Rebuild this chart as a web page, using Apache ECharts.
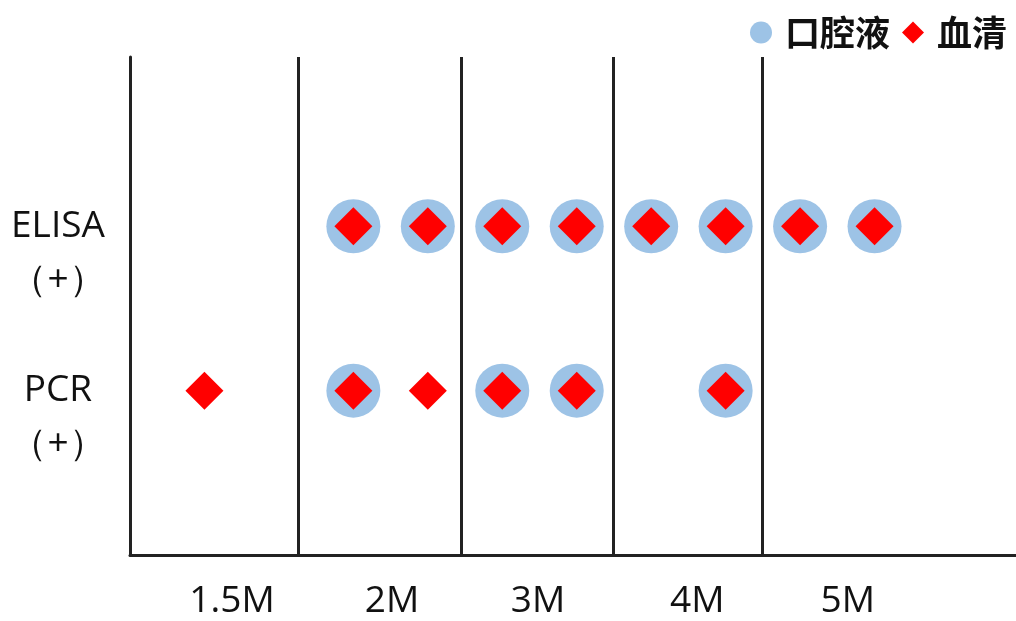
<!DOCTYPE html>
<html>
<head>
<meta charset="utf-8">
<script src="https://cdn.jsdelivr.net/npm/echarts@6/dist/echarts.min.js"></script>
<style>
html,body{margin:0;padding:0;background:#fff;}
#c{width:1016px;height:621px;}
</style>
</head>
<body>
<div id="c"></div>
<script>
// Row levels
var rowNames = ['PCR\n（+）', 'ELISA\n（+）'];
var rowLevels = [1, 2];
// Period labels and their positions along the sample axis
var periodLabels = ['1.5M', '2M', '3M', '4M', '5M'];
var periodLabelPos = [1.37, 3.52, 5.48, 7.62, 9.64];
var periodBounds = [2.26, 4.45, 6.49, 8.49];
// Oral fluid positives [sample position, row level]
var oralFluid = [[3,2],[4,2],[5,2],[6,2],[7,2],[8,2],[9,2],[10,2],
                 [3,1],[5,1],[6,1],[8,1]];
// Serum positives
var serum = [[3,2],[4,2],[5,2],[6,2],[7,2],[8,2],[9,2],[10,2],
             [1,1],[3,1],[4,1],[5,1],[6,1],[8,1]];

var font = '"Open Sans", "Noto Sans", sans-serif';
var chart = echarts.init(document.getElementById('c'));
chart.setOption({
  animation: false,
  backgroundColor: '#fff',
  legend: {
    right: 4, top: 10,
    itemWidth: 22, itemHeight: 22, itemGap: 12,
    textStyle: {fontSize: 35, fontWeight: 'bold', color: '#111', fontFamily: '"Noto Sans CJK SC", sans-serif', padding: [0,0,0,8]},
    data: [{name: '口腔液', icon: 'circle'}, {name: '血清', icon: 'diamond'}]
  },
  grid: {left: 130, right: 0, top: 57, bottom: 66},
  xAxis: {
    type: 'value', min: 0, max: 11.9,
    axisLine: {show: true, lineStyle: {color: '#222', width: 3}},
    axisTick: {show: false},
    splitLine: {show: false},
    axisLabel: {
      customValues: periodLabelPos,
      formatter: function (v) {
        var i = periodLabelPos.indexOf(v);
        return i >= 0 ? periodLabels[i] : '';
      },
      fontSize: 37, color: '#111', fontFamily: font,
      verticalAlign: 'middle', margin: 46
    }
  },
  yAxis: {
    type: 'value', min: 0, max: 3.03,
    axisLine: {show: true, lineStyle: {color: '#222', width: 3}},
    axisTick: {show: false},
    splitLine: {show: false},
    axisLabel: {
      customValues: rowLevels.map(function (v) { return v - 0.164; }),
      formatter: function (v) {
        var best = 0;
        rowLevels.forEach(function (r, i) { if (Math.abs(r - 0.164 - v) < 0.01) best = i; });
        return rowNames[best];
      },
      fontSize: 37, lineHeight: 54, color: '#111', fontFamily: font,
      align: 'center', verticalAlign: 'middle', margin: 72
    }
  },
  series: [
    {
      name: '口腔液', type: 'scatter', symbol: 'circle', symbolSize: 54,
      itemStyle: {color: '#9DC3E6', opacity: 1},
      data: oralFluid,
      markLine: {
        silent: true, symbol: 'none', label: {show: false},
        lineStyle: {color: '#222', width: 3, type: 'solid'},
        data: periodBounds.map(function (b) { return {xAxis: b}; })
      },
      z: 2
    },
    {
      name: '血清', type: 'scatter', symbol: 'diamond', symbolSize: 38,
      itemStyle: {color: '#FF0000', opacity: 1},
      data: serum, z: 3
    }
  ]
});
</script>
</body>
</html>
